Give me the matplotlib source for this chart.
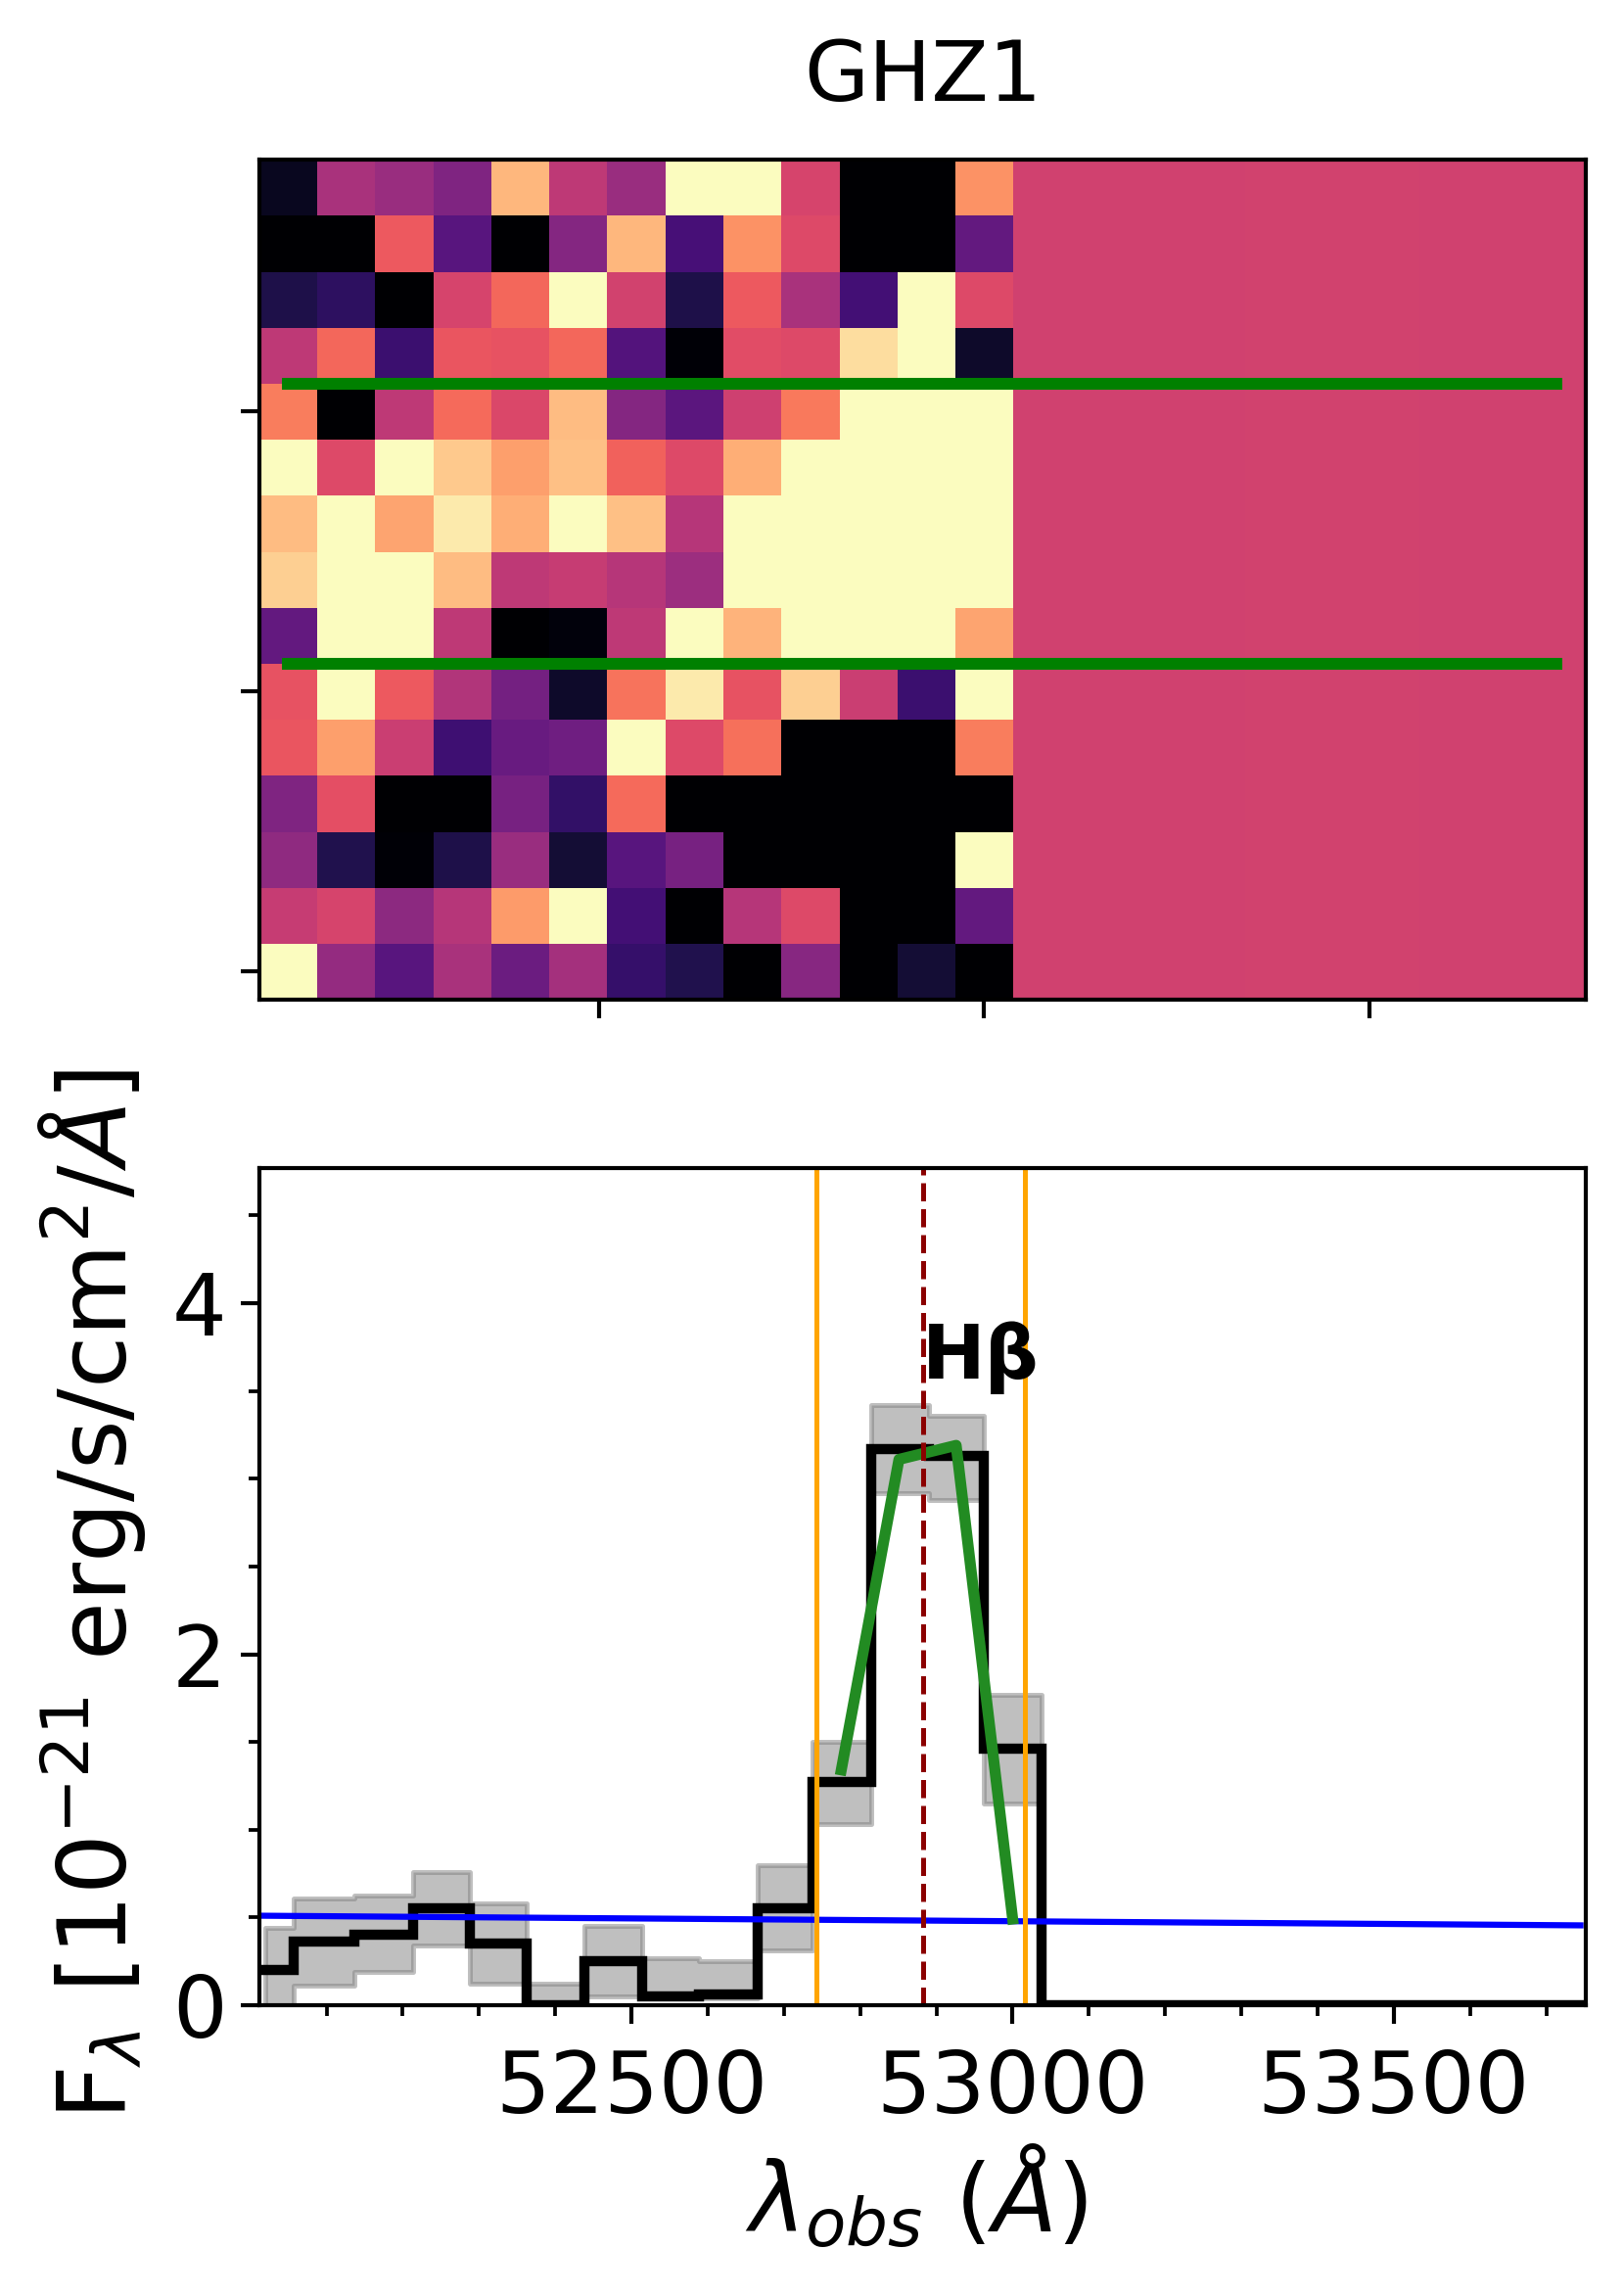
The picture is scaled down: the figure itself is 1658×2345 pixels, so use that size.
import numpy as np
import matplotlib
matplotlib.use('Agg')
import matplotlib.pyplot as plt

## 2D spectrum, rows listed from top to bottom, colormap fraction
rows_2d = [
    [0.06, 0.47, 0.43, 0.37, 0.85, 0.52, 0.43, 1.00, 1.00, 0.58, 0.00, 0.00, 0.77],
    [0.00, 0.00, 0.65, 0.27, 0.00, 0.38, 0.85, 0.23, 0.77, 0.60, 0.00, 0.00, 0.30],
    [0.13, 0.17, 0.00, 0.58, 0.68, 1.00, 0.57, 0.13, 0.65, 0.47, 0.22, 1.00, 0.60],
    [0.52, 0.68, 0.20, 0.64, 0.63, 0.68, 0.26, 0.01, 0.61, 0.60, 0.93, 1.00, 0.08],
    [0.73, 0.00, 0.52, 0.69, 0.59, 0.86, 0.38, 0.28, 0.56, 0.72, 1.00, 1.00, 1.00],
    [1.00, 0.60, 1.00, 0.89, 0.80, 0.87, 0.67, 0.60, 0.83, 1.00, 1.00, 1.00, 1.00],
    [0.86, 1.00, 0.81, 0.96, 0.83, 1.00, 0.87, 0.50, 1.00, 1.00, 1.00, 1.00, 1.00],
    [0.90, 1.00, 1.00, 0.86, 0.52, 0.54, 0.50, 0.44, 1.00, 1.00, 1.00, 1.00, 1.00],
    [0.30, 1.00, 1.00, 0.52, 0.00, 0.02, 0.52, 1.00, 0.84, 1.00, 1.00, 1.00, 0.81],
    [0.63, 1.00, 0.65, 0.49, 0.34, 0.08, 0.71, 0.96, 0.63, 0.90, 0.55, 0.20, 1.00],
    [0.64, 0.80, 0.55, 0.21, 0.31, 0.33, 1.00, 0.60, 0.70, 0.00, 0.00, 0.00, 0.73],
    [0.37, 0.62, 0.00, 0.00, 0.35, 0.18, 0.69, 0.00, 0.00, 0.00, 0.00, 0.00, 0.00],
    [0.41, 0.14, 0.01, 0.13, 0.43, 0.10, 0.27, 0.35, 0.00, 0.00, 0.00, 0.00, 1.00],
    [0.54, 0.58, 0.40, 0.50, 0.79, 1.00, 0.22, 0.00, 0.50, 0.60, 0.00, 0.00, 0.30],
    [1.00, 0.42, 0.27, 0.47, 0.32, 0.46, 0.19, 0.14, 0.00, 0.39, 0.00, 0.10, 0.00],
]
## columns past the end of the data, nearly flat
empty_cols = [0.565, 0.565, 0.565, 0.565, 0.567, 0.567, 0.567, 0.563, 0.563, 0.563]
extent_2d = [52059, 53791, -0.5, 14.5]
xlim_2d = [52059, 53781]
extract_rows = [5.5, 10.5]
extract_x = [52088, 53750]

## 1D spectrum
edges = [52012, 52057, 52136, 52213, 52288, 52363, 52438, 52514, 52589, 52665, 52737, 52814, 52890, 52962, 53038, 53752]
flux = [0.20, 0.36, 0.40, 0.55, 0.35, 0.00, 0.25, 0.05, 0.06, 0.55, 1.27, 3.17, 3.13, 1.46, 0.00]
err_x = [52020, 52057, 52136, 52213, 52288, 52363, 52438, 52514, 52589, 52665, 52737, 52814, 52890, 52962, 53038]
err_up = [0.44, 0.61, 0.625, 0.76, 0.58, 0.12, 0.45, 0.27, 0.25, 0.80, 1.50, 3.42, 3.36, 1.77]
err_lo = [0.00, 0.11, 0.19, 0.34, 0.12, 0.00, 0.05, 0.04, 0.04, 0.31, 1.03, 2.92, 2.88, 1.15]
fit_x = [52774, 52851, 52926, 53001]
fit_y = [1.31, 3.11, 3.19, 0.46]
cont_x = [52012, 53745]
cont_y = [0.51, 0.455]
window = [52743, 53016]
line_center = 52882

W, H = 1658, 2345
plt.rcParams['axes.linewidth'] = 1.0
fig = plt.figure(figsize=(W/300, H/300), dpi=300)

ax1 = fig.add_axes([265/W, 1-1021/H, 1355/W, 858/H])
ax2 = fig.add_axes([265/W, 1-2048/H, 1355/W, 855/H])

img = np.hstack([np.array(rows_2d), np.tile(empty_cols, (len(rows_2d), 1))])
ax1.imshow(img[::-1], cmap='magma', vmin=0, vmax=1, origin='lower', aspect='auto',
           extent=extent_2d, interpolation='nearest')
for y in extract_rows:
    ax1.plot(extract_x, [y, y], color='green', lw=2.9, solid_capstyle='butt')
ax1.set_xlim(xlim_2d)
ax1.set_ylim(extent_2d[2], extent_2d[3])
ax1.set_xticks([52500, 53000, 53500])
ax1.set_yticks([0, 5, 10])
ax1.set_xticklabels([])
ax1.set_yticklabels([])
ax1.tick_params(length=4.5, width=1.0)
ax1.set_title('GHZ1', fontsize=20.5, pad=14.4)

ax2.fill_between(err_x, err_up + [err_up[-1]], err_lo + [err_lo[-1]], step='post',
                 color='gray', alpha=0.5, lw=1.2)
ax2.stairs(flux, edges, color='black', lw=2.5, baseline=None)
ax2.plot(cont_x, cont_y, color='blue', lw=1.5)
ax2.plot(fit_x, fit_y, color='forestgreen', lw=2.7, solid_capstyle='butt')
ax2.axvline(window[0], color='orange', lw=1.2)
ax2.axvline(window[1], color='orange', lw=1.2)
ax2.axvline(line_center, color='darkred', lw=1.2, ls='--')
ax2.text(52881, 3.57, 'H\u03b2', fontsize=18.5, fontweight='bold')

ax2.set_xlim(52012, 53752)
ax2.set_ylim(0, 4.77)
ax2.set_xticks([52500, 53000, 53500])
ax2.set_xticks(np.arange(52100, 53800, 100), minor=True)
ax2.set_yticks([0, 2, 4])
ax2.set_yticks(np.arange(0, 4.75, 0.5), minor=True)
ax2.tick_params(which='major', labelsize=21, length=4.5, width=1.0)
ax2.tick_params(axis='x', which='major', pad=6)
ax2.tick_params(which='minor', length=2.6, width=0.9)
ax2.set_xlabel(r'$\lambda_{obs}$ ($\AA$)', fontsize=23.2, labelpad=3, x=0.495)
ax2.set_ylabel(r'F$_\lambda$ [10$^{-21}$ erg/s/cm$^2$/$\AA$]', fontsize=23.3, labelpad=6, y=0.49)

plt.savefig('out.png', dpi=300)
plt.close()
